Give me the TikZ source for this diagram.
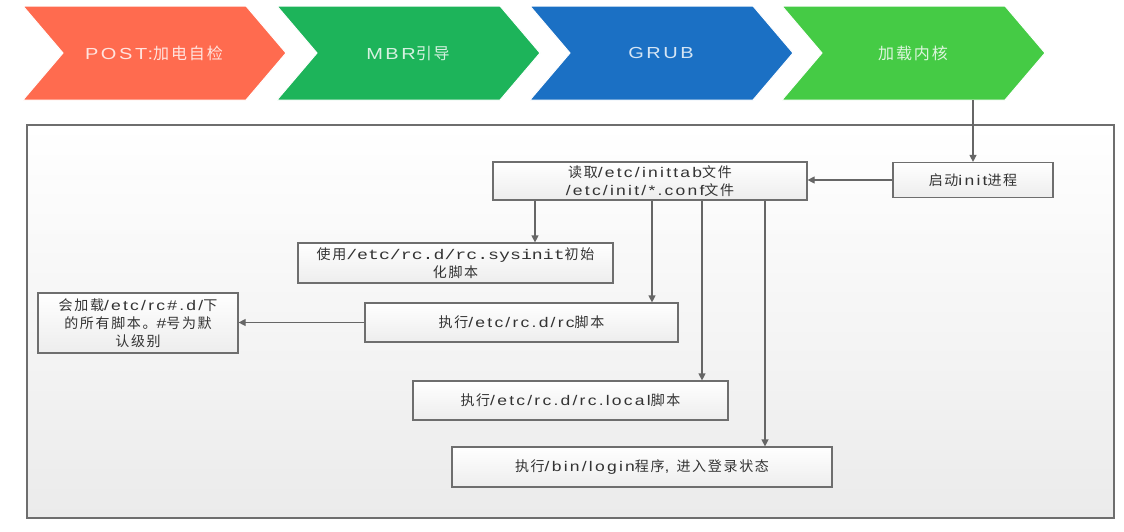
\documentclass[tikz,border=0pt]{standalone}
\usepackage{fontspec}
\setmainfont{Liberation Sans}[FakeStretch=1.25,LetterSpace=16]
\newfontfamily\cjkf{Noto Sans CJK SC}[LetterSpace=12]
\newfontfamily\monof{Liberation Mono}[FakeStretch=1.3]
\newcommand\zh[1]{{\cjkf #1}}
\usetikzlibrary{arrows.meta}
\definecolor{cred}{HTML}{FF6B4F}
\definecolor{cgreen}{HTML}{1DB45A}
\definecolor{cblue}{HTML}{1B70C4}
\definecolor{clime}{HTML}{45CB45}
\definecolor{boxline}{HTML}{6E6E6E}
\definecolor{arrline}{HTML}{666666}
\definecolor{boxbot}{HTML}{EDEDED}
\definecolor{framebot}{HTML}{EBEBEB}
\begin{document}
\begin{tikzpicture}[x=1pt,y=-1pt,
  box/.style={draw=boxline, line width=1.2pt, top color=white, bottom color=boxbot,
    inner sep=2pt, align=center, font=\fontsize{14}{18}\selectfont, text=black!80},
  arr/.style={draw=arrline, line width=1.2pt, -{Triangle[length=7pt,width=7pt]}},
  chev/.style={draw=white, line width=1pt},
  chevtext/.style={text=white, text opacity=0.82, minimum height=94pt, font=\fontsize{16}{18}\selectfont}
]
\useasboundingbox[fill=white] (0,0) rectangle (1124,531);
% chevrons
\foreach \L/\c in {23/cred, 277/cgreen, 530/cblue, 782/clime}{
  \path[chev, fill=\c] (\L,6) -- ++(223,0) -- ++(40,47) -- ++(-40,47) -- ++(-223,0) -- ++(40,-47) -- cycle;
}
\node[chevtext] (c1) at (154,53) {POST:\zh{加电自检}};
\node[chevtext] (c2) at (408,53) {MBR\zh{引导}};
\node[chevtext] (c3) at (661,53) {GRUB};
\node[chevtext] (c4) at (913,53) {\zh{加载内核}};
% frame
\draw[draw=boxline, line width=1.3pt, top color=white, bottom color=framebot] (27,125) rectangle (1114,518);
% boxes
\node[box, minimum width=160pt, minimum height=35pt] (init) at (973,180) {\zh{启动}init\zh{进程}};
\node[box, minimum width=314pt, minimum height=38pt] (read) at (650,181) {\zh{读取}/etc/inittab\zh{文件}\\/etc/init/*.conf\zh{文件}};
\node[box, minimum width=315pt, minimum height=40pt] (sysinit) at (455.5,263) {\zh{使用}{\monof /etc/rc.d/rc.sysinit}\zh{初始}\\\zh{化脚本}};
\node[box, minimum width=313pt, minimum height=39pt] (rc) at (521.5,322.5) {\zh{执行}/etc/rc.d/rc\zh{脚本}};
\node[box, minimum width=200pt, minimum height=60pt] (left) at (138,323) {\zh{会加载}/etc/rc\#.d/\zh{下}\\\zh{的所有脚本。}\#\zh{号为默}\\\zh{认级别}};
\node[box, minimum width=315pt, minimum height=39pt] (rclocal) at (570.5,400.5) {\zh{执行}/etc/rc.d/rc.local\zh{脚本}};
\node[box, minimum width=380pt, minimum height=40pt] (login) at (642,467) {\zh{执行}/bin/login\zh{程序}, \zh{进入登录状态}};
% connectors
\draw[arr] (c4.south -| init.north) -- (init.north);
\draw[arr] (init.west) -- (init.west -| read.east);
\draw[arr] ([xshift=-115pt]read.south) -- ([xshift=-115pt]read.south |- sysinit.north);
\draw[arr] ([xshift=2pt]read.south) -- ([xshift=2pt]read.south |- rc.north);
\draw[arr] ([xshift=52pt]read.south) -- ([xshift=52pt]read.south |- rclocal.north);
\draw[arr] ([xshift=115pt]read.south) -- ([xshift=115pt]read.south |- login.north);
\draw[arr] (rc.west) -- (rc.west -| left.east);
\end{tikzpicture}
\end{document}
